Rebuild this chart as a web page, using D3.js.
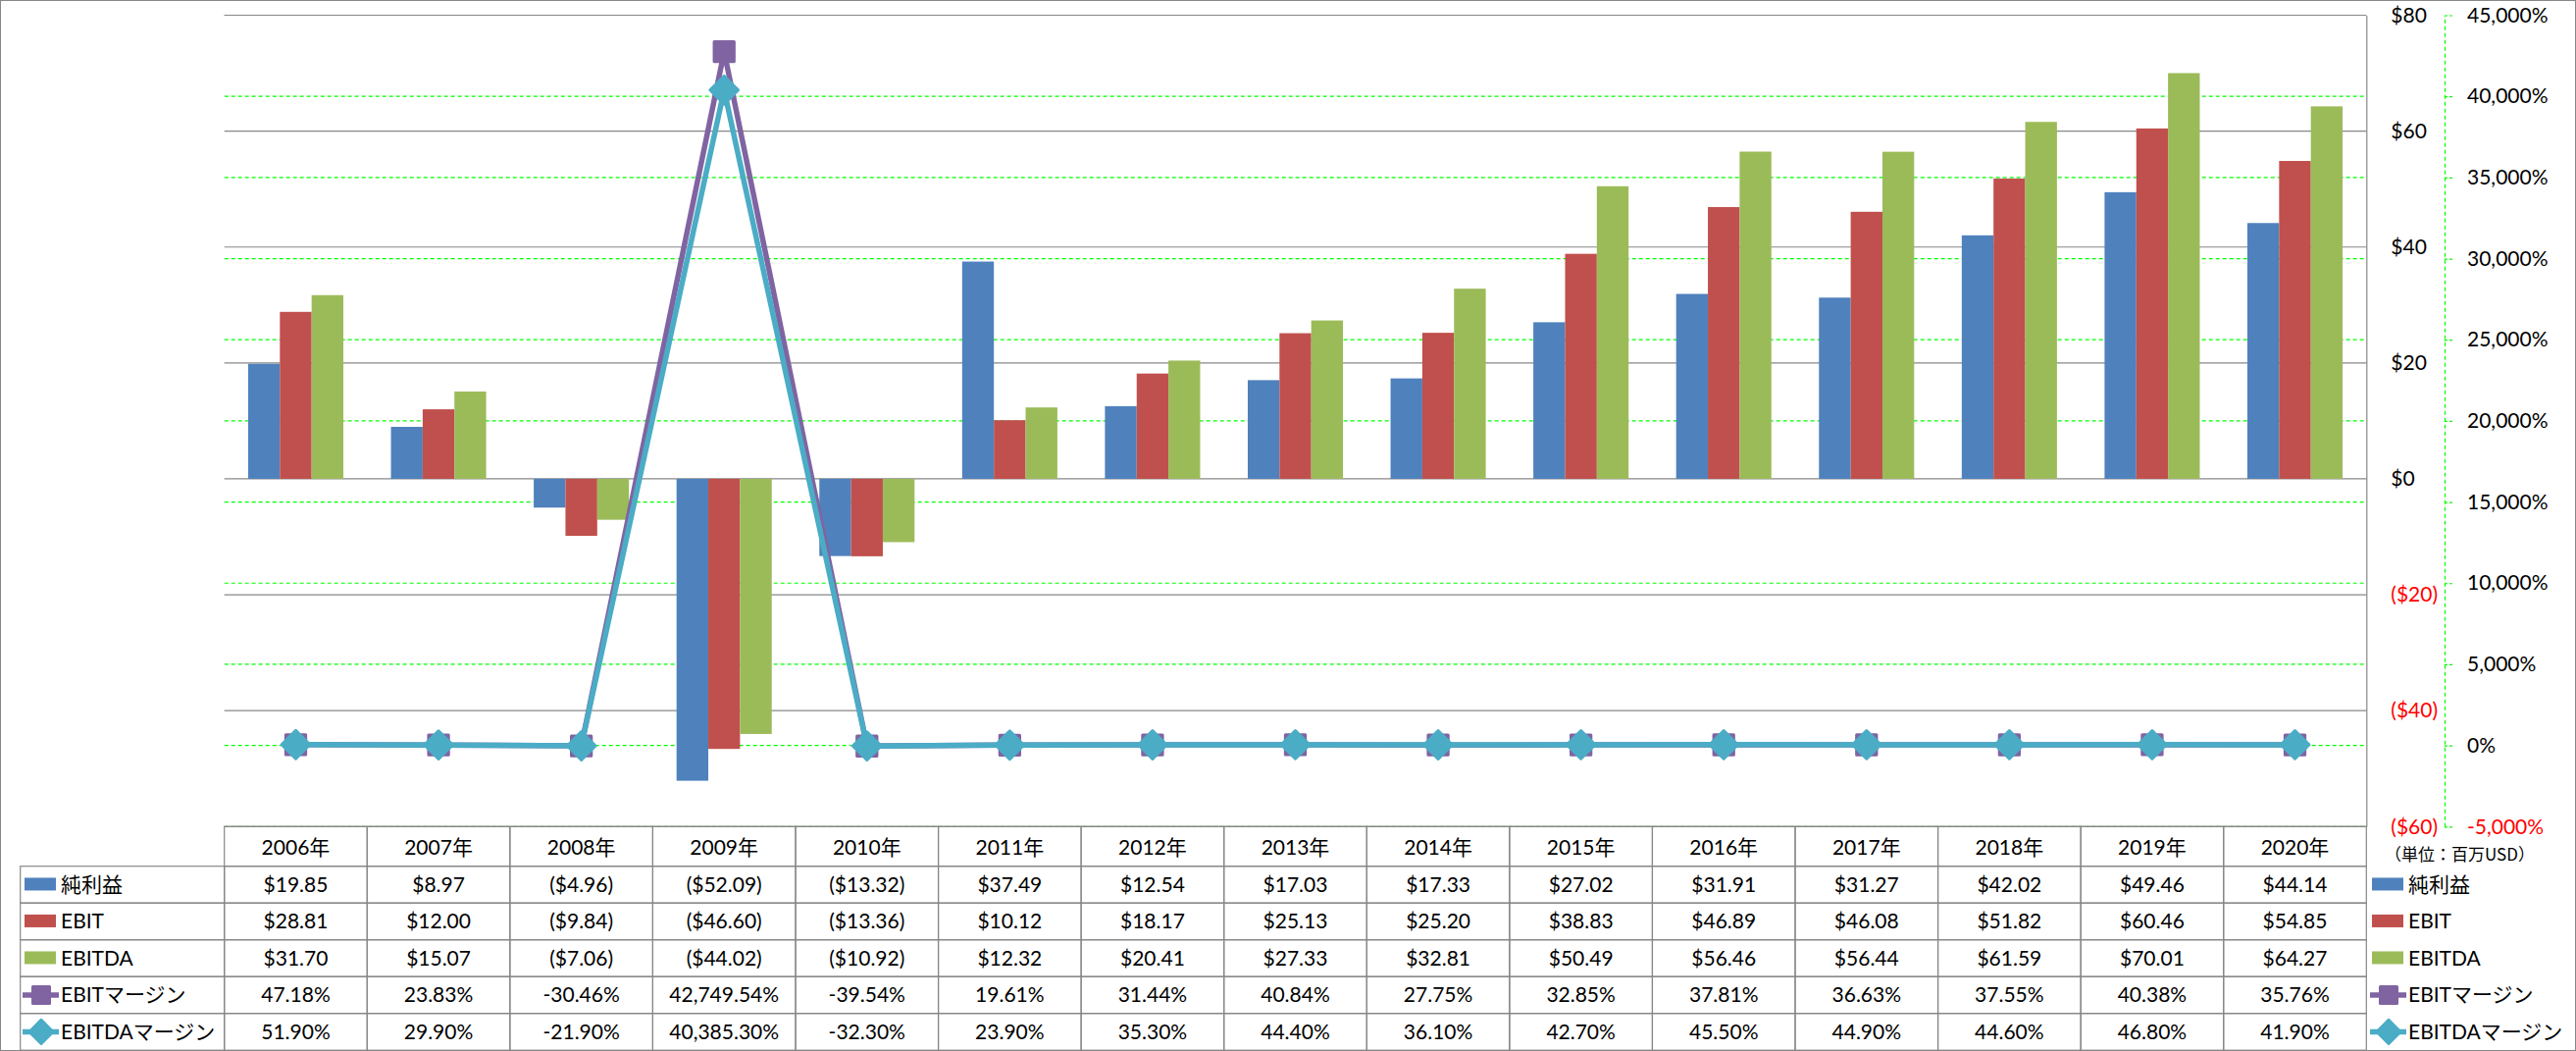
<!DOCTYPE html>
<html>
<head>
<meta charset="utf-8">
<script src="https://d3js.org/d3.v7.min.js"></script>
<style>
body { margin: 0; background: #fff; }
text { font-family: Lato, "Noto Sans CJK JP", sans-serif; font-size: 21px; }
</style>
</head>
<body>
<script>
// Chart data (百万USD / %)
var years = ["2006年", "2007年", "2008年", "2009年", "2010年", "2011年", "2012年", "2013年",
             "2014年", "2015年", "2016年", "2017年", "2018年", "2019年", "2020年"];
var netIncome = [19.85, 8.97, -4.96, -52.09, -13.32, 37.49, 12.54, 17.03, 17.33, 27.02, 31.91, 31.27, 42.02, 49.46, 44.14];
var ebit = [28.81, 12.00, -9.84, -46.60, -13.36, 10.12, 18.17, 25.13, 25.20, 38.83, 46.89, 46.08, 51.82, 60.46, 54.85];
var ebitda = [31.70, 15.07, -7.06, -44.02, -10.92, 12.32, 20.41, 27.33, 32.81, 50.49, 56.46, 56.44, 61.59, 70.01, 64.27];
var ebitMargin = [47.18, 23.83, -30.46, 42749.54, -39.54, 19.61, 31.44, 40.84, 27.75, 32.85, 37.81, 36.63, 37.55, 40.38, 35.76];
var ebitdaMargin = [51.90, 29.90, -21.90, 40385.30, -32.30, 23.90, 35.30, 44.40, 36.10, 42.70, 45.50, 44.90, 44.60, 46.80, 41.90];
var leftTicks = [-60, -40, -20, 0, 20, 40, 60, 80];
var rightTicks = [-5000, 0, 5000, 10000, 15000, 20000, 25000, 30000, 35000, 40000, 45000];
var unitLabel = "（単位：百万USD）";

// Canvas and plot area
var width = 2626, height = 1071;
var plot = {left: 228.7, right: 2412.3, top: 15.5, bottom: 842.3};
var headerH = 40.4, rowH = 37.5, labelLeft = 20.7;
var gridGray = "#878787";

var locale = d3.formatLocale({decimal: ".", thousands: ",", grouping: [3], currency: ["$", ""], minus: "-"});
var fmtPct = locale.format(",.2f");
var fmtInt = locale.format(",");
function money(v) { return v < 0 ? "($" + Math.abs(v).toFixed(2) + ")" : "$" + v.toFixed(2); }
function moneyAxis(v) { return v < 0 ? "($" + Math.abs(v) + ")" : "$" + v; }

var barSeries = [
    {name: "純利益", values: netIncome, color: "#4F81BD"},
    {name: "EBIT", values: ebit, color: "#C0504D"},
    {name: "EBITDA", values: ebitda, color: "#9BBB59"}
];
var lineSeries = [
    {name: "EBITマージン", values: ebitMargin, color: "#8064A2", marker: "square"},
    {name: "EBITDAマージン", values: ebitdaMargin, color: "#4BACC6", marker: "diamond"}
];

// Set the ranges
var xScale = d3.scaleBand().domain(years).range([plot.left, plot.right]);
var xSeries = d3.scaleBand().domain([0, 1, 2]).range([0, xScale.bandwidth()]).paddingOuter(0.75);
var yLeft = d3.scaleLinear().domain([-60, 80]).range([plot.bottom, plot.top]);
var yRight = d3.scaleLinear().domain([-5000, 45000]).range([plot.bottom, plot.top]);

var svg = d3.select("body")
    .append("svg")
        .attr("width", width)
        .attr("height", height);

// Outer border
svg.append("rect")
    .attr("x", 0.5).attr("y", 0.5)
    .attr("width", width - 1).attr("height", height - 1)
    .attr("fill", "#fff")
    .attr("stroke", gridGray);

// Gridlines (secondary: green dashed, primary: gray)
svg.append("g").selectAll("line")
    .data(rightTicks)
    .enter().append("line")
    .attr("x1", plot.left).attr("x2", plot.right)
    .attr("y1", function (d) { return yRight(d); })
    .attr("y2", function (d) { return yRight(d); })
    .attr("stroke", "#00FF00")
    .attr("stroke-width", 1.2)
    .attr("stroke-dasharray", "4,3");

svg.append("g").selectAll("line")
    .data(leftTicks)
    .enter().append("line")
    .attr("x1", plot.left).attr("x2", plot.right)
    .attr("y1", function (d) { return yLeft(d); })
    .attr("y2", function (d) { return yLeft(d); })
    .attr("stroke", gridGray)
    .attr("stroke-width", 1.2);

// Bars
svg.selectAll(".series")
    .data(barSeries)
    .enter().append("g")
    .attr("class", "series")
    .attr("fill", function (s) { return s.color; })
    .selectAll("rect")
    .data(function (s, i) {
        return s.values.map(function (v, j) { return {v: v, year: years[j], k: i}; });
    })
    .enter().append("rect")
    .attr("x", function (d) { return xScale(d.year) + xSeries(d.k); })
    .attr("width", xSeries.bandwidth())
    .attr("y", function (d) { return yLeft(Math.max(0, d.v)); })
    .attr("height", function (d) { return Math.abs(yLeft(d.v) - yLeft(0)); });

// Lines and markers
var cx = function (i) { return xScale(years[i]) + xScale.bandwidth() / 2; };
var line = d3.line()
    .x(function (d, i) { return cx(i); })
    .y(function (d) { return yRight(d); });

function markerPath(type, size) {
    return d3.symbol().type(d3.symbolSquare).size(size)();
}

lineSeries.forEach(function (s) {
    var g = svg.append("g");
    g.append("path")
        .attr("d", line(s.values))
        .attr("fill", "none")
        .attr("stroke", s.color)
        .attr("stroke-width", 5.5)
        .attr("stroke-linejoin", "round");
    g.selectAll("path.mk")
        .data(s.values)
        .enter().append("path")
        .attr("class", "mk")
        .attr("d", markerPath(s.marker, 412))
        .attr("transform", function (d, i) {
            return "translate(" + cx(i) + "," + yRight(d) + ")" + (s.marker === "diamond" ? " rotate(45)" : "");
        })
        .attr("fill", s.color)
        .attr("stroke", s.color)
        .attr("stroke-width", 3)
        .attr("stroke-linejoin", "round");
});

// Primary axis (right side, gray)
var axisL = svg.append("g")
    .attr("transform", "translate(" + plot.right + ",0)")
    .call(d3.axisRight(yLeft).tickValues(leftTicks).tickSize(0).tickSizeOuter(0).tickPadding(25).tickFormat(moneyAxis));
axisL.select(".domain").attr("stroke", gridGray).attr("stroke-width", 1.2);
axisL.selectAll("text").style("fill", function (d) { return d < 0 ? "#FF0000" : "#000"; });

// Secondary axis (green dashed)
var axisR = svg.append("g")
    .attr("transform", "translate(2492,0)")
    .call(d3.axisRight(yRight).tickValues(rightTicks).tickSize(8).tickSizeOuter(0).tickPadding(15)
        .tickFormat(function (d) { return fmtInt(d) + "%"; }));
axisR.select(".domain").attr("stroke", "#00FF00").attr("stroke-width", 1.2).attr("stroke-dasharray", "4,3");
axisR.selectAll(".tick line").attr("stroke", "#00FF00").attr("stroke-width", 1.2).attr("stroke-dasharray", "3,2");
axisR.selectAll("text").style("fill", function (d) { return d < 0 ? "#FF0000" : "#000"; });

// Data table
var rows = [
    {name: "純利益", values: netIncome, fmt: money, color: "#4F81BD", key: "bar"},
    {name: "EBIT", values: ebit, fmt: money, color: "#C0504D", key: "bar"},
    {name: "EBITDA", values: ebitda, fmt: money, color: "#9BBB59", key: "bar"},
    {name: "EBITマージン", values: ebitMargin, fmt: function (v) { return fmtPct(v) + "%"; }, color: "#8064A2", key: "square"},
    {name: "EBITDAマージン", values: ebitdaMargin, fmt: function (v) { return fmtPct(v) + "%"; }, color: "#4BACC6", key: "diamond"}
];

var table = svg.append("g");
var header = table.selectAll(".hdr")
    .data(years)
    .enter().append("g")
    .attr("class", "hdr");
header.append("rect")
    .attr("x", function (d) { return xScale(d); })
    .attr("y", plot.bottom)
    .attr("width", xScale.bandwidth())
    .attr("height", headerH)
    .attr("fill", "none")
    .attr("stroke", gridGray)
    .attr("stroke-width", 1.2);
header.append("text")
    .attr("x", function (d) { return xScale(d) + xScale.bandwidth() / 2; })
    .attr("y", plot.bottom + headerH / 2 + 1)
    .attr("dy", "0.35em")
    .attr("text-anchor", "middle")
    .text(function (d) { return d; });

function drawKey(g, r, x, y, small) {
    if (r.key === "bar") {
        g.append("rect")
            .attr("x", x).attr("y", y - 7)
            .attr("width", 32).attr("height", 13)
            .attr("fill", r.color);
    } else {
        g.append("line")
            .attr("x1", x - 2).attr("x2", x + 35)
            .attr("y1", y).attr("y2", y)
            .attr("stroke", r.color)
            .attr("stroke-width", 5.5);
        g.append("path")
            .attr("d", markerPath(r.key, 290))
            .attr("transform", "translate(" + (x + 17) + "," + y + ")" + (r.key === "diamond" ? " rotate(45)" : ""))
            .attr("fill", r.color)
            .attr("stroke", r.color)
            .attr("stroke-width", 3)
            .attr("stroke-linejoin", "round");
    }
}

rows.forEach(function (r, i) {
    var top = plot.bottom + headerH + i * rowH;
    var cy = top + rowH / 2;
    var g = table.append("g");
    g.append("rect")
        .attr("x", labelLeft).attr("y", top)
        .attr("width", plot.left - labelLeft).attr("height", rowH)
        .attr("fill", "none").attr("stroke", gridGray).attr("stroke-width", 1.2);
    drawKey(g, r, 25, cy, false);
    g.append("text")
        .attr("x", 62).attr("y", cy).attr("dy", "0.35em")
        .text(r.name);

    g.selectAll(".cell")
        .data(r.values)
        .enter().append("rect")
        .attr("x", function (d, j) { return xScale(years[j]); })
        .attr("y", top)
        .attr("width", xScale.bandwidth()).attr("height", rowH)
        .attr("fill", "none").attr("stroke", gridGray).attr("stroke-width", 1.2);
    g.selectAll(".val")
        .data(r.values)
        .enter().append("text")
        .attr("x", function (d, j) { return cx(j); })
        .attr("y", cy).attr("dy", "0.35em")
        .attr("text-anchor", "middle")
        .text(function (d) { return r.fmt(d); });

    // Right legend
    drawKey(g, r, 2418, cy, true);
    g.append("text")
        .attr("x", 2455).attr("y", cy).attr("dy", "0.35em")
        .text(r.name);
});

// Unit label
svg.append("text")
    .attr("x", 2431).attr("y", 871).attr("dy", "0.35em")
    .style("font-family", "'Noto Sans CJK JP', sans-serif")
    .style("font-size", "17px")
    .text(unitLabel);
</script>
</body>
</html>
